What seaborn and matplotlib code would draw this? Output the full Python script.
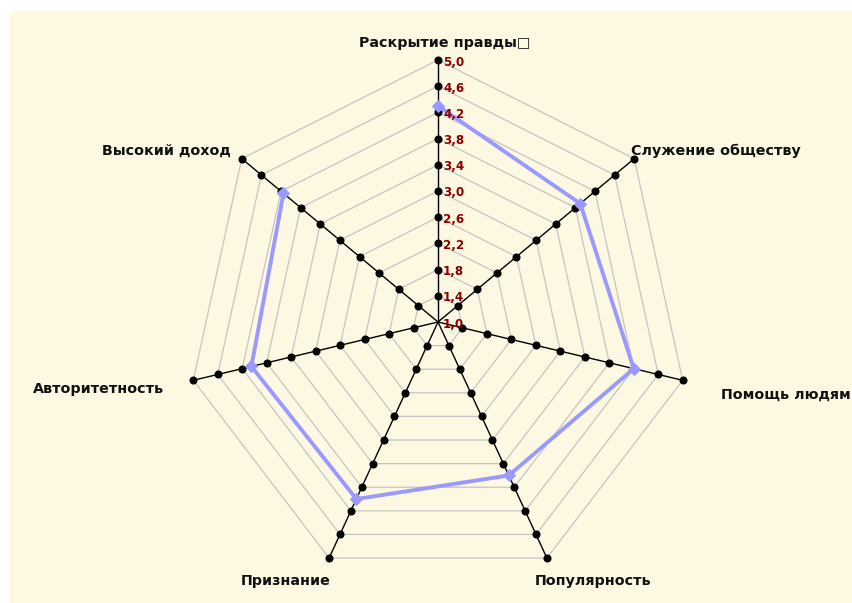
import numpy as np
import matplotlib
matplotlib.use("Agg")
import matplotlib.pyplot as plt
import seaborn as sns
from matplotlib.patches import Rectangle

# Survey categories (clockwise from the top) and their mean scores
categories = [
    "Раскрытие правды\u25a1",
    "Служение обществу",
    "Помощь людям",
    "Популярность",
    "Признание",
    "Авторитетность",
    "Высокий доход",
]
scores = [4.3, 3.9, 4.2, 3.6, 4.0, 4.05, 4.15]

# Radial scale
r_min, r_max = 1.0, 5.0
tick_values = [1.0, 1.4, 1.8, 2.2, 2.6, 3.0, 3.4, 3.8, 4.2, 4.6, 5.0]
tick_labels = ["1,0", "1,4", "1,8", "2,2", "2,6", "3,0", "3,4", "3,8", "4,2", "4,6", "5,0"]

# Label offsets (pixels) relative to each outer vertex, with alignment
label_style = [
    ((7, 17), "center"),
    ((-3, 8), "left"),
    ((38, -14), "left"),
    ((46, -23), "center"),
    ((-43, -23), "center"),
    ((-29, -9), "right"),
    ((-11, 8), "right"),
]

sns.set_theme(style="white")
plt.rcParams["font.family"] = ["DejaVu Sans"]

W, H = 852, 603
fig = plt.figure(figsize=(W / 100, H / 100), dpi=100, facecolor="white")

# cream panel behind the chart
panel = Rectangle((10 / W, 0), 1 - 10 / W, 1 - 11 / H,
                  transform=fig.transFigure, facecolor="#FDF8E2",
                  edgecolor="none", zorder=-10)
fig.add_artist(panel)

cx, cy = 438, 322
rx, ry = 251, 262
ax = fig.add_axes([(cx - rx) / W, (H - cy - ry) / H, 2 * rx / W, 2 * ry / H],
                  projection="polar")
ax.set_zorder(1)
ax.set_aspect("auto")
ax.patch.set_visible(False)
ax.set_theta_offset(np.pi / 2)
ax.set_theta_direction(-1)
ax.set_ylim(r_min, r_max)
ax.grid(False)
ax.spines["polar"].set_visible(False)
ax.set_xticks([])
ax.set_yticks([])

n = len(categories)
theta = np.arange(n) * 2 * np.pi / n
theta_closed = np.append(theta, theta[0])

# polygonal grid rings
for v in tick_values[1:]:
    ax.plot(theta_closed, [v] * (n + 1), color="#C4C4C4", lw=0.9, zorder=1,
            clip_on=False)

# spokes with a dot at every ring
for t in theta:
    ax.plot([t, t], [r_min, r_max], color="black", lw=1.0, zorder=2)
    ax.plot([t] * (len(tick_values) - 1), tick_values[1:], ls="none",
            marker="o", ms=4.8, color="black", zorder=3, clip_on=False)

# data series
vals_closed = scores + scores[:1]
sns.lineplot(x=theta_closed, y=vals_closed, ax=ax, sort=False,
             color="#9999FF", lw=2.8, marker="D", markersize=6,
             markeredgecolor="#9999FF", zorder=4)

# radial tick labels along the top spoke
for v, lab in zip(tick_values, tick_labels):
    ax.annotate(lab, xy=(0, v), xytext=(5, -2), textcoords="offset pixels",
                ha="left", va="center", fontsize=8.6, fontweight="bold",
                color="#8B0000", zorder=5)

# category labels
for t, lab, (off, ha) in zip(theta, categories, label_style):
    ax.annotate(lab, xy=(t, r_max), xytext=off, textcoords="offset pixels",
                ha=ha, va="center", fontsize=10.3, fontweight="bold",
                color="#111111", annotation_clip=False)

fig.savefig("out.png", dpi=100, facecolor=fig.get_facecolor())
